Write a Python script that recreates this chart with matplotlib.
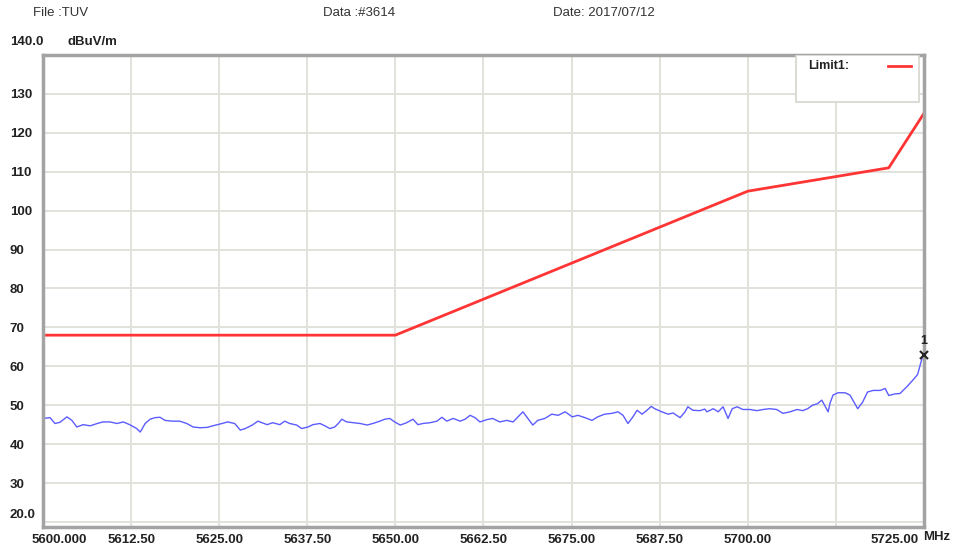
import matplotlib
matplotlib.use("Agg")
import matplotlib.pyplot as plt
import matplotlib.transforms as mtransforms
from matplotlib import font_manager

# narrow font like the EMI receiver printout, if there is one
names = set(f.name for f in font_manager.fontManager.ttflist)
fam = "Liberation Sans Narrow" if "Liberation Sans Narrow" in names else "Liberation Sans"
plt.rcParams['font.family'] = [fam, 'DejaVu Sans']

# ---- data ----
limit_freq = [5600, 5650, 5700, 5720, 5725]
limit_level = [68, 68, 105, 111, 125]

trace_freq = [
    5600.0, 5601.0, 5601.7, 5602.4, 5603.4, 5604.1, 5604.8, 5605.7, 5606.7, 5607.7,
    5608.5, 5609.5, 5610.5, 5611.4, 5612.3, 5613.3, 5613.8, 5614.5, 5615.2, 5615.9,
    5616.6, 5617.3, 5618.4, 5619.4, 5620.4, 5621.3, 5622.3, 5623.3, 5624.1, 5625.4,
    5626.2, 5627.2, 5628.0, 5628.7, 5629.7, 5630.5, 5631.8, 5632.6, 5633.6, 5634.3,
    5635.0, 5636.0, 5636.7, 5637.6, 5638.3, 5639.3, 5640.0, 5640.7, 5641.4, 5641.9,
    5642.4, 5643.1, 5644.0, 5645.0, 5646.0, 5646.8, 5647.8, 5648.5, 5649.2, 5649.9,
    5650.7, 5651.6, 5652.5, 5653.2, 5653.9, 5654.9, 5655.9, 5656.6, 5657.3, 5658.2,
    5659.2, 5659.9, 5660.6, 5661.3, 5662.0, 5663.0, 5663.8, 5664.8, 5665.8, 5666.7,
    5667.4, 5668.1, 5668.8, 5669.5, 5670.2, 5671.2, 5672.2, 5673.1, 5674.1, 5675.1,
    5675.9, 5676.9, 5677.9, 5678.7, 5679.7, 5680.7, 5681.6, 5682.3, 5683.0, 5683.7,
    5684.3, 5685.0, 5685.7, 5686.3, 5686.8, 5687.8, 5688.7, 5689.4, 5690.4, 5691.1,
    5691.5, 5692.2, 5693.2, 5693.9, 5694.2, 5695.1, 5695.8, 5696.5, 5697.2, 5697.8,
    5698.5, 5699.3, 5700.3, 5701.3, 5702.2, 5703.1, 5704.1, 5705.0, 5706.0, 5707.0,
    5707.8, 5708.5, 5709.2, 5709.9, 5710.5, 5710.9, 5711.4, 5711.7, 5712.1, 5712.8,
    5713.8, 5714.5, 5715.2, 5715.6, 5716.3, 5717.0, 5717.8, 5718.8, 5719.5, 5720.0,
    5720.9, 5721.6, 5722.6, 5723.4, 5724.1, 5724.7, 5725.0,
]
trace_level = [
    46.6, 46.8, 45.3, 45.6, 47.0, 46.1, 44.4, 45.0, 44.7, 45.3,
    45.7, 45.7, 45.3, 45.7, 45.0, 44.0, 43.1, 45.3, 46.4, 46.8,
    46.9, 46.1, 45.9, 45.9, 45.3, 44.4, 44.2, 44.3, 44.7, 45.3,
    45.7, 45.3, 43.6, 44.0, 44.9, 45.9, 45.0, 45.5, 45.0, 45.9,
    45.3, 44.9, 44.0, 44.4, 45.0, 45.3, 44.7, 44.0, 44.4, 45.3,
    46.4, 45.7, 45.5, 45.3, 44.9, 45.3, 45.9, 46.4, 46.6, 45.7,
    44.9, 45.5, 46.4, 45.0, 45.3, 45.5, 45.9, 46.9, 45.9, 46.6,
    45.9, 46.4, 47.4, 46.8, 45.7, 46.3, 46.6, 45.7, 46.1, 45.7,
    47.0, 48.3, 46.6, 44.9, 46.1, 46.6, 47.7, 47.4, 48.3, 47.0,
    47.4, 46.8, 46.1, 47.0, 47.7, 47.9, 48.3, 47.4, 45.3, 47.0,
    48.7, 47.7, 48.7, 49.7, 49.1, 48.3, 47.7, 48.0, 46.8, 48.3,
    49.6, 48.7, 48.6, 49.0, 48.3, 49.1, 48.3, 49.6, 46.6, 49.1,
    49.6, 48.9, 48.9, 48.6, 48.9, 49.1, 48.9, 47.9, 48.3, 48.9,
    48.6, 49.1, 50.0, 50.4, 51.3, 50.0, 48.3, 50.7, 52.6, 53.2,
    53.2, 52.6, 50.4, 49.1, 50.8, 53.4, 53.8, 53.8, 54.3, 52.5,
    52.9, 53.0, 54.8, 56.4, 57.9, 61.9, 62.8,
]

marker_freq = 5725.0
marker_level = 62.8

x_ticks = [5600, 5612.5, 5625, 5637.5, 5650, 5662.5, 5675, 5687.5, 5700, 5712.5, 5725]
x_labels = ["5600.000", "5612.50", "5625.00", "5637.50", "5650.00", "5662.50",
            "5675.00", "5687.50", "5700.00", "", "5725.00"]
y_ticks = [20, 30, 40, 50, 60, 70, 80, 90, 100, 110, 120, 130]
y_labels = ["20.0", "30", "40", "50", "60", "70", "80", "90", "100", "110", "120", "130"]

# ---- figure ----
fig = plt.figure(figsize=(9.55, 5.46), dpi=100)
ax = fig.add_axes([0.045, 0.0348, 0.9225, 0.8645])
ax.set_xlim(5600, 5725)
ax.set_ylim(18.7, 140)

ax.set_xticks(x_ticks)
ax.set_xticklabels(x_labels, fontsize=9.5, fontweight='bold', color='#222222')
ax.set_yticks(y_ticks)
ax.set_yticklabels(y_labels, fontsize=9.5, fontweight='bold', color='#222222',
                   ha='left')
ax.tick_params(axis='both', length=0)
ax.tick_params(axis='y', pad=24)
ax.tick_params(axis='x', pad=5)
ax.grid(True, color='#e2e2dc', linewidth=1.4)
ax.set_axisbelow(True)
for s in ax.spines.values():
    s.set_color('#a3a3a3')
    s.set_linewidth(2.5)

# nudge first/last x labels and the bottom y label like the print-out
xl = ax.get_xticklabels()
xl[0].set_transform(xl[0].get_transform() +
                    mtransforms.ScaledTranslation(16 / 100, 0, fig.dpi_scale_trans))
xl[-1].set_transform(xl[-1].get_transform() +
                     mtransforms.ScaledTranslation(-29 / 100, 0, fig.dpi_scale_trans))
yl = ax.get_yticklabels()
yl[0].set_transform(yl[0].get_transform() +
                    mtransforms.ScaledTranslation(0, 8 / 100, fig.dpi_scale_trans))

ax.plot(trace_freq, trace_level, color='#5c5cff', linewidth=1.0)
ax.plot(limit_freq, limit_level, color='#ff3535', linewidth=2.0)

# marker 1
ax.plot([marker_freq], [marker_level], marker='x', color='#222222',
        markersize=6, markeredgewidth=1.5, clip_on=False, zorder=5)
ax.text(marker_freq, marker_level + 2.2, "1", ha='center', va='bottom',
        fontsize=9, fontweight='bold', color='#222222')

# legend box in the top right corner
ax.add_patch(plt.Rectangle((0.855, 0.9), 0.139, 0.1, transform=ax.transAxes,
                           facecolor='white', edgecolor='#d6d6d0', linewidth=1.2,
                           zorder=3))
ax.text(0.868, 0.977, "Limit1:", transform=ax.transAxes, fontsize=9,
        fontweight='bold', color='#222222', va='center', zorder=4)
ax.plot([0.959, 0.985], [0.977, 0.977], transform=ax.transAxes,
        color='#ff3535', linewidth=2.0, zorder=4)

# header texts
fig.text(33 / 955, 1 - 13 / 546, "File :TUV", fontsize=9.5, color='#333333', va='center')
fig.text(323 / 955, 1 - 13 / 546, "Data :#3614", fontsize=9.5, color='#333333', va='center')
fig.text(553 / 955, 1 - 13 / 546, "Date: 2017/07/12", fontsize=9.5, color='#333333', va='center')
fig.text(10 / 955, 1 - 42 / 546, "140.0", fontsize=9.5, fontweight='bold',
         color='#222222', va='center')
fig.text(67 / 955, 1 - 42 / 546, "dBuV/m", fontsize=9.5, fontweight='bold',
         color='#222222', va='center')
fig.text(923 / 955, 1 - 537 / 546, "MHz", fontsize=9.5, fontweight='bold',
         color='#222222', va='center')

fig.savefig("out.png", dpi=100)
